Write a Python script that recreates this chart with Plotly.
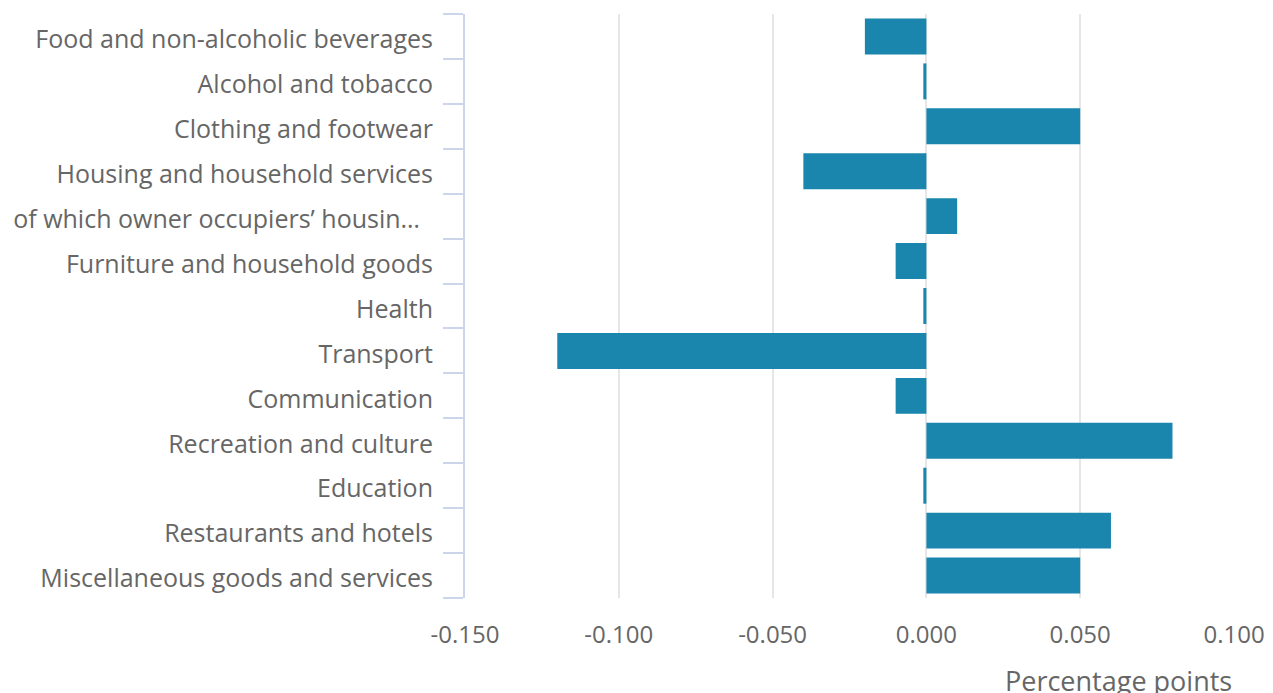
import plotly.graph_objects as go

categories = [
    "Food and non-alcoholic beverages",
    "Alcohol and tobacco",
    "Clothing and footwear",
    "Housing and household services",
    "of which owner occupiers’ housin…\u00a0\u00a0",
    "Furniture and household goods",
    "Health",
    "Transport",
    "Communication",
    "Recreation and culture",
    "Education",
    "Restaurants and hotels",
    "Miscellaneous goods and services",
]
values = [-0.02, -0.001, 0.05, -0.04, 0.01, -0.01, -0.001, -0.12, -0.01, 0.08, -0.001, 0.06, 0.05]
x_ticks = [-0.15, -0.10, -0.05, 0.0, 0.05, 0.10]
x_ticktext = ["-0.150", "-0.100", "-0.050", "0.000", "0.050", "0.100"]

fig = go.Figure(go.Bar(
    x=values, y=categories, orientation="h",
    marker=dict(color="#1a86ad", line=dict(width=0)),
    hoverinfo="x+y",
))

fig.update_layout(
    width=1273, height=693,
    margin=dict(l=457, r=47, t=6, b=103),
    plot_bgcolor="white", paper_bgcolor="white",
    bargap=0.2,
    font=dict(family="Open Sans", size=24, color="#666666"),
    showlegend=False,
)
fig.update_xaxes(
    range=[-0.15, 0.1], tickvals=x_ticks, ticktext=x_ticktext,
    showgrid=True, gridcolor="#e6e6e6", gridwidth=1.5,
    zeroline=True, zerolinecolor="#e6e6e6", zerolinewidth=1.5,
    showline=False, ticks="", ticklabelstandoff=20,
    tickfont=dict(size=24, color="#666666"),
    automargin=False,
)
fig.update_yaxes(
    categoryorder="array", categoryarray=categories[::-1],
    autorange=False, range=[-0.5, len(categories) - 0.5],
    tickson="boundaries", ticks="outside", ticklen=20, tickcolor="#ccd6eb", tickwidth=1.5,
    showline=True, linecolor="#ccd6eb", linewidth=2,
    showgrid=False,
    tickfont=dict(size=25, color="#666666"),
    ticklabelstandoff=25, ticklabelshift=3,
    automargin=False,
)
fig.add_annotation(
    text="Percentage points", xref="paper", yref="paper", x=1, y=0,
    xanchor="right", yanchor="top", yshift=-62, showarrow=False,
    font=dict(size=27, color="#666666"),
)
fig.write_html("out.html")
